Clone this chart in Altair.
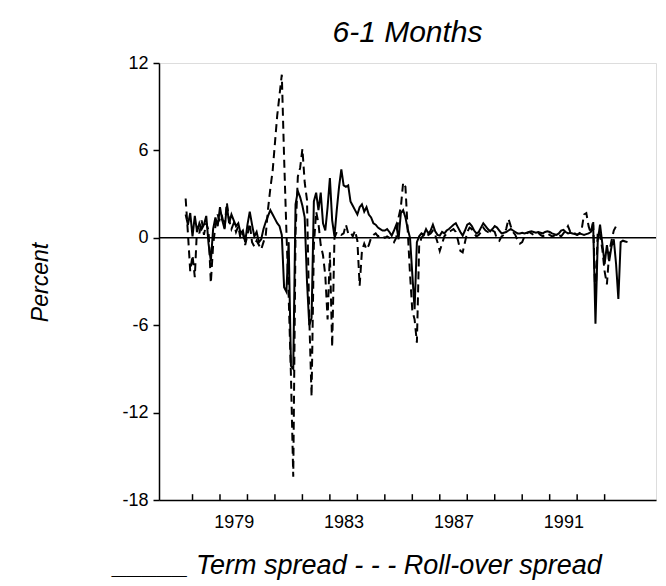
import altair as alt
import pandas as pd

# ---- data (monthly, starting Oct 1977) ----
start_year = 1977.75

term_spread = [
    1.6, 0.9, 1.7, 0.1, 1.5, 0.4, 1.0, 0.6, 0.9, 1.5,
    -0.4, -1.6, 0.6, 1.4, 0.8, 2.1, 1.2, 0.6, 2.2, 1.0,
    1.6, 1.2, 0.8, 1.0, 0.3, 0.5, -0.3, 0.9, 1.8, 0.9,
    0.1, 0.4, -0.3, -0.1, 0.6, 1.1, 1.5, 1.9, 1.6, 1.3,
    1.0, 0.8, 0.2, -3.4, -3.7, -0.3, -8.8, -9.0, 2.3, 3.2,
    2.8, 2.2, 1.4, -3.0, -6.0, -5.5, 2.5, 3.1, 1.9, 3.1,
    1.0, 0.5, 2.1, 4.1, 1.2, 0.1, 1.9, 3.5, 4.7, 3.6,
    3.5, 3.6, 2.5, 2.2, 1.9, 1.6, 2.1, 2.3, 1.8, 2.1,
    1.6, 1.4, 1.0, 0.9, 0.7, 0.6, 0.5, 0.5, 0.6, 0.4,
    0.15, 0.5, 0.9, -0.1, 1.7, 1.9, 1.4, 0.6, 0.0, -2.5,
    -4.9, -0.3, 0.1, 0.3, 0.2, 0.6, 0.3, 0.5, 0.9, 0.45,
    0.2, 0.15, 0.4, 0.3, 0.5, 0.6, 0.75, 0.9, 1.0, 0.7,
    0.4, 0.15, 0.5, 0.9, 1.0, 0.8, 0.5, 0.3, 0.4, 0.7,
    1.0, 0.8, 0.6, 0.45, 0.6, 0.8, 0.7, 0.5, 0.3, 0.35,
    0.4, 0.5, 0.6, 0.5, 0.4, 0.3, 0.3, 0.35, 0.3, 0.35,
    0.4, 0.45, 0.4, 0.35, 0.4, 0.35, 0.3, 0.4, 0.45, 0.4,
    0.3, 0.25, 0.2, 0.3, 0.5, 0.55, 0.4, 0.3, 0.35, 0.3,
    0.25, 0.2, 0.3, 0.25, 0.2, 0.25, 0.3, 0.4, 0.9, -5.9,
    -0.2, 0.9, -0.4, -1.8, -0.5, -1.6, -0.6, -0.1, -1.8, -4.2,
    -0.3, -0.2, -0.25, -0.3,
]

rollover_spread = [
    2.7, 0.3, -2.3, -1.2, -2.7, 0.8, 0.3, 1.2, 0.2, 1.0,
    0.5, -3.1, -0.5, 0.8, 1.6, 1.0, 1.4, 0.7, 2.4, 1.2,
    0.6, 1.0, 0.4, 0.8, -0.1, 0.3, -0.5, 0.2, 1.0, -0.3,
    -0.6, -0.2, -0.5, -0.8, -0.3, 0.2, 2.0, 3.4, 4.6, 6.5,
    8.4, 9.8, 11.2, 5.5, 0.5, -4.0, -9.5, -16.4, 0.3, 4.2,
    4.8, 6.1, 3.8, 2.6, -5.5, -10.9, -0.5, 1.8, 1.0, -0.5,
    -1.2, -2.6, -5.6, -1.0, -7.5, 0.0, 0.4, 0.3, 0.2, 0.3,
    0.9, 0.3, 0.4, 0.1, 0.5, -0.2, -3.3, -0.9, -0.4, -0.8,
    -0.5, 0.0, 0.2, 0.3, 0.1, 0.2, 0.1, 0.0, 0.1, 0.0,
    -0.1, -0.3, 0.0, 1.4, 2.1, 3.8, 3.5, 0.5, -2.5, -5.0,
    -5.6, -7.2, -0.5, 0.0, 0.2, 0.4, 0.2, 0.3, 0.5, 0.2,
    -0.3, -0.9, -0.4, 0.1, 0.3, 0.4, 0.5, 0.6, 0.4, -0.2,
    -0.9, -1.0, -0.3, 0.4, 0.7, 0.6, 0.3, 0.1, 0.2, 0.4,
    0.7, 0.5, 0.4, 0.3, 0.5, 0.4, -0.1, -0.2, 0.1, 0.2,
    0.6, 1.3, 0.8, 0.4, 0.2, -0.2, -0.4, -0.3, 0.1, 0.3,
    0.4, 0.3, 0.2, 0.3, 0.35, 0.2, 0.1, 0.2, 0.3, 0.2,
    0.1, 0.15, 0.3, 0.2, 0.1, 0.3, 0.5, 0.8, 0.4, 0.2,
    0.3, 0.2, 0.3, 0.6, 1.6, 1.7, 0.8, 0.3, 1.2, -4.5,
    0.5, 0.2, -0.8, -2.3, -3.2, -1.0, -0.2, 0.5, 0.8, 0.6,
]

tick_years = list(range(1978, 1994))
labeled_years = [1979, 1983, 1987, 1991]
y_ticks = [-18, -12, -6, 0, 6, 12]
zero_line = [0]

title_text = "6-1 Months"
y_title = "Percent"
legend_text = "_____\u00a0Term spread - - - Roll-over spread"

# ---- tables ----
df_term = pd.DataFrame({
    "t": [start_year + i / 12 for i in range(len(term_spread))],
    "v": term_spread,
})
df_roll = pd.DataFrame({
    "t": [start_year + i / 12 for i in range(len(rollover_spread))],
    "v": rollover_spread,
})
df_ticks = pd.DataFrame({"year": tick_years, "y0": -18, "y1": -17.6})
df_zero = pd.DataFrame({"y": zero_line})

FONT = "Liberation Sans"
W, H = 497, 437

xscale = alt.Scale(domain=[1976.78, 1994.87], nice=False, zero=False)
yscale = alt.Scale(domain=[-18, 12], nice=False, zero=False)

label_expr = ("indexof(" + str(labeled_years) +
              ", datum.value) >= 0 ? toString(datum.value) : ''")

x_axis = alt.Axis(
    values=tick_years, ticks=False, labelExpr=label_expr, labelOverlap=False,
    labelOffset=13.7, labelPadding=13, labelFontSize=18, labelFont=FONT,
    labelColor="black", domainColor="black", domainWidth=1.5, grid=False,
    title=legend_text, titleFont=FONT, titleFontSize=27, titleFontStyle="italic",
    titleFontWeight="normal", titleColor="black", titleX=-46, titleY=73,
    titleAlign="left", titleBaseline="alphabetic",
)
y_axis = alt.Axis(
    values=y_ticks, tickSize=6, tickColor="black", tickWidth=1.5,
    labelExpr="toString(datum.value)",
    labelPadding=5, labelFontSize=18, labelFont=FONT, labelColor="black",
    domainColor="black", domainWidth=1.5, grid=False,
    title=y_title, titleFont=FONT, titleFontSize=23, titleFontStyle="italic",
    titleFontWeight="normal", titleColor="black", titleX=-119, titleY=219,
    titleAngle=270, titleAlign="center", titleBaseline="middle",
)

zero = alt.Chart(df_zero).mark_rule(color="black", strokeWidth=1.5).encode(
    y=alt.Y("y:Q", scale=yscale, axis=y_axis)
)
term = alt.Chart(df_term).mark_line(color="black", strokeWidth=2).encode(
    x=alt.X("t:Q", scale=xscale, axis=x_axis),
    y=alt.Y("v:Q", scale=yscale, axis=y_axis),
)
roll = alt.Chart(df_roll).mark_line(
    color="black", strokeWidth=2, strokeDash=[8, 5]
).encode(
    x=alt.X("t:Q", scale=xscale, axis=x_axis),
    y=alt.Y("v:Q", scale=yscale, axis=y_axis),
)
ticks = alt.Chart(df_ticks).mark_rule(color="black", strokeWidth=1.5).encode(
    x=alt.X("year:Q", scale=xscale, axis=x_axis),
    y=alt.Y("y0:Q", scale=yscale, axis=y_axis),
    y2="y1:Q",
)

chart = alt.layer(zero, term, roll, ticks).properties(
    width=W, height=H,
    title=alt.TitleParams(
        title_text, font=FONT, fontSize=30, fontStyle="italic",
        fontWeight="normal", color="black", anchor="middle", frame="group",
        offset=6,
    ),
    autosize=alt.AutoSizeParams(type="none"),
    padding={"left": 159, "top": 63, "right": 10, "bottom": 86},
).configure_view(
    stroke="black", strokeWidth=1.5
).configure(background="white")

chart.save("out.html", embed_options={"renderer": "svg", "actions": False})
